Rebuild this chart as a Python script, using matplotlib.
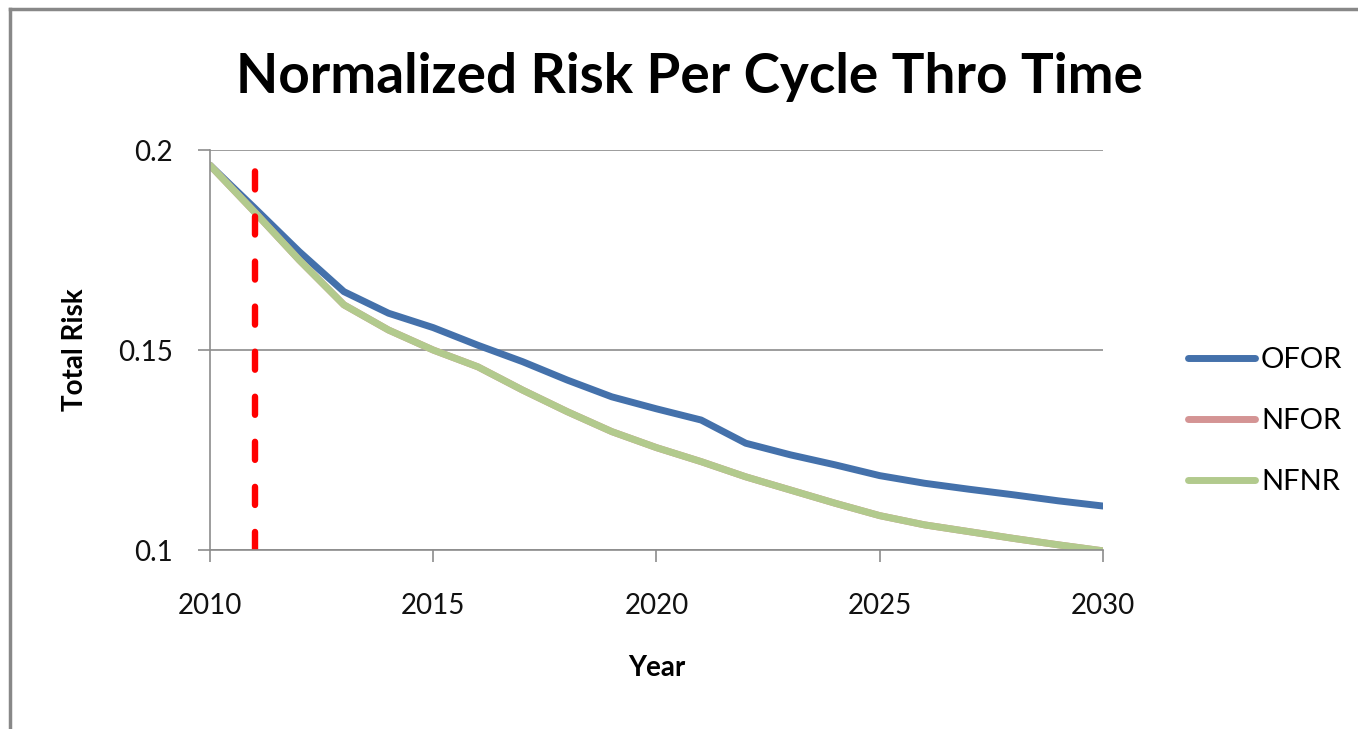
import matplotlib
matplotlib.use("Agg")
import matplotlib.pyplot as plt
from matplotlib.lines import Line2D

years = list(range(2010, 2031))
ofor = [0.1962, 0.1855, 0.1746, 0.1646, 0.1592, 0.1556, 0.1512, 0.1471, 0.1425, 0.1383,
        0.1353, 0.1325, 0.1267, 0.1238, 0.1213, 0.1186, 0.1167, 0.1152, 0.1138, 0.1123,
        0.1110]
nfor = [0.1962, 0.1845, 0.1725, 0.1613, 0.1550, 0.1500, 0.1458, 0.1400, 0.1346, 0.1296,
        0.1256, 0.1221, 0.1183, 0.1150, 0.1117, 0.1086, 0.1063, 0.1046, 0.1029, 0.1013,
        0.0998]
nfnr = [0.1962, 0.1845, 0.1725, 0.1613, 0.1550, 0.1500, 0.1458, 0.1400, 0.1346, 0.1296,
        0.1256, 0.1221, 0.1183, 0.1150, 0.1117, 0.1086, 0.1063, 0.1046, 0.1029, 0.1013,
        0.0998]
marker_year = 2011
marker_top = 0.1957

xticks = [2010, 2015, 2020, 2025, 2030]
yticks = [0.1, 0.15, 0.2]
ytick_labels = ["0.1", "0.15", "0.2"]

plt.rcParams['font.family'] = ['Lato', 'DejaVu Sans']
plt.rcParams['lines.scale_dashes'] = False

fig = plt.figure(figsize=(13.58, 7.29), dpi=100)
ax = fig.add_axes([0.1546, 0.2455, 0.8122 - 0.1546, 0.7942 - 0.2455])

grey = "#8c8c8c"
ax.plot(years, ofor, color="#4471ab", lw=5.0, label="OFOR",
        solid_capstyle="round", solid_joinstyle="round")
ax.plot(years, nfor, color="#d49494", lw=5.0, label="NFOR",
        solid_capstyle="round", solid_joinstyle="round")
ax.plot(years, nfnr, color="#b2ca8d", lw=5.0, label="NFNR",
        solid_capstyle="round", solid_joinstyle="round")
# dashed marker drawn bottom-up so a dash sits on the axis
ax.plot([marker_year, marker_year], [0.1, marker_top], color="#ff0000", lw=4.6,
        dashes=(13.0, 19.45), dash_capstyle="round")

ax.set_xlim(2010, 2030)
ax.set_ylim(0.1, 0.2)
ax.set_xticks(xticks)
ax.set_yticks(yticks)
ax.set_yticklabels(ytick_labels)
ax.grid(axis="y", color=grey, lw=1.2)
ax.set_axisbelow(True)
for s in ["top", "right"]:
    ax.spines[s].set_visible(False)
for s in ["left", "bottom"]:
    ax.spines[s].set_color(grey)
    ax.spines[s].set_linewidth(1.2)
ax.tick_params(axis="both", direction="out", length=8.6, width=1.2, color=grey,
               labelsize=20, labelcolor="#111111")
ax.tick_params(axis="x", pad=22)
ax.tick_params(axis="y", pad=18)

ax.set_xlabel("Year", fontsize=20, fontweight="bold", labelpad=26)
ax.set_ylabel("Total Risk", fontsize=20, fontweight="bold", labelpad=22)

fig.text(0.508, 0.895, "Normalized Risk Per Cycle Thro Time", ha="center", va="center",
         fontsize=39.5, fontweight="bold")

ax.legend(loc="center left", bbox_to_anchor=(1.066, 0.3225), frameon=False, fontsize=21,
          handlelength=2.3, handletextpad=0.2, labelspacing=1.2)

# chart border
fig.add_artist(Line2D([0.0077, 0.0077], [0, 0.988], color="#888888", lw=2.5))
fig.add_artist(Line2D([0.0077, 1], [0.988, 0.988], color="#888888", lw=2.5))

fig.savefig("out.png", dpi=100)
